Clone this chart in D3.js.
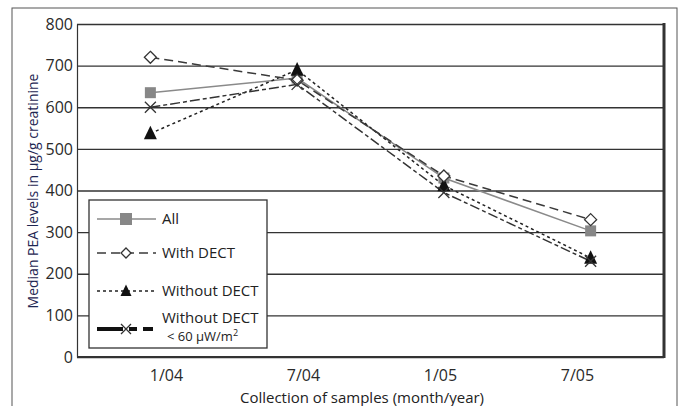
<!DOCTYPE html>
<html>
<head>
<meta charset="utf-8">
<script src="https://cdn.jsdelivr.net/npm/d3@7"></script>
<style>
  body { margin: 0; background: #fff; }
  text { font-family: "Open Sans", sans-serif; }
</style>
</head>
<body>
<div id="chart"></div>
<script>
// data
const months = ["1/04", "7/04", "1/05", "7/05"];
const allValues = [635, 670, 430, 303];
const withDect = [720, 665, 435, 330];
const withoutDect = [537, 690, 412, 238];
const withoutDectLow = [600, 655, 395, 230];
const yTicks = [0, 100, 200, 300, 400, 500, 600, 700, 800];

// plot box
const plotLeft = 77, plotRight = 664, plotTop = 24, plotBottom = 357;

const svg = d3.select("#chart")
    .append("svg")
    .attr("width", 684)
    .attr("height", 406)

const x = d3.scaleBand().domain(months).range([plotLeft, plotRight])
const xLabel = d3.scalePoint().domain(months).range([166, 577])
const y = d3.scaleLinear().domain([0, 800]).range([plotBottom, plotTop])
const cx = d => x(d) + x.bandwidth() / 2

// outer frame
svg.append("rect")
    .attr("x", 12).attr("y", 8)
    .attr("width", 665).attr("height", 430)
    .attr("fill", "none")
    .attr("stroke", "#555")
    .attr("stroke-width", 1)

// y axis + gridlines
const yAxis = svg.append("g")
    .attr("transform", `translate(${plotLeft},0)`)
    .call(d3.axisLeft(y).tickValues(yTicks).tickSizeInner(-(plotRight - plotLeft)).tickSizeOuter(0).tickPadding(4))
yAxis.select(".domain").attr("stroke", "#333").attr("stroke-width", 1.2)
yAxis.selectAll(".tick line").attr("stroke", "#333").attr("stroke-width", 1.4)
yAxis.selectAll(".tick text")
    .attr("font-size", 16)
    .attr("fill", "#2a2a2a")
    .style("font-family", "'Open Sans', sans-serif")

// x axis labels
const xAxis = svg.append("g")
    .attr("transform", `translate(0,${plotBottom})`)
    .call(d3.axisBottom(xLabel).tickSize(0).tickPadding(13))
xAxis.select(".domain").remove()
xAxis.selectAll(".tick text")
    .attr("font-size", 16)
    .attr("fill", "#2a2a2a")
    .style("font-family", "'Open Sans', sans-serif")

// bottom and right borders of the plot
svg.append("line")
    .attr("x1", plotLeft).attr("x2", plotRight)
    .attr("y1", plotBottom).attr("y2", plotBottom)
    .attr("stroke", "#333").attr("stroke-width", 2)
svg.append("line")
    .attr("x1", plotRight).attr("x2", plotRight)
    .attr("y1", plotTop - 1).attr("y2", plotBottom + 1)
    .attr("stroke", "#333").attr("stroke-width", 3)

// titles
svg.append("text")
    .attr("x", 362).attr("y", 403)
    .attr("text-anchor", "middle")
    .attr("font-size", 15)
    .attr("fill", "#222")
    .text("Collection of samples (month/year)")

svg.append("text")
    .attr("transform", "translate(38,191) rotate(-90)")
    .attr("text-anchor", "middle")
    .attr("font-size", 14)
    .attr("fill", "#1e2652")
    .text("Median PEA levels in µg/g creatinine")

// marker shapes
function square(s) { return `M${-s/2},${-s/2}h${s}v${s}h${-s}Z` }
function diamond(s) { return `M0,${-s/2}L${s/2},0L0,${s/2}L${-s/2},0Z` }
function triangle(s) { return `M0,${-s*0.6}L${s/2},${s*0.45}L${-s/2},${s*0.45}Z` }
function cross(s) { return `M${-s/2},${-s/2}L${s/2},${s/2}M${s/2},${-s/2}L${-s/2},${s/2}` }

const series = [
    { name: "All", values: allValues, stroke: "#8a8a8a", dash: null, shape: square, size: 11, fill: "#878787", mstroke: "none" },
    { name: "Without DECT", values: withoutDect, stroke: "#222", dash: "3,3", shape: triangle, size: 13, fill: "#111", mstroke: "none" },
    { name: "With DECT", values: withDect, stroke: "#3a3a3a", dash: "9,5", shape: diamond, size: 12, fill: "#fff", mstroke: "#333" },
    { name: "Without DECT <60", values: withoutDectLow, stroke: "#333", dash: "10,3,4,3", shape: cross, size: 11, fill: "none", mstroke: "#333" }
]

const line = d3.line()
    .x((d, i) => cx(months[i]))
    .y(d => y(d))

series.forEach(s => {
    svg.append("path")
        .datum(s.values)
        .attr("fill", "none")
        .attr("stroke", s.stroke)
        .attr("stroke-width", 1.5)
        .attr("stroke-dasharray", s.dash)
        .attr("d", line)
})

series.forEach(s => {
    svg.append("g")
        .selectAll("path")
        .data(s.values)
        .enter().append("path")
        .attr("transform", (d, i) => `translate(${cx(months[i])},${y(d)})`)
        .attr("d", s.shape(s.size))
        .attr("fill", s.fill)
        .attr("stroke", s.mstroke)
        .attr("stroke-width", 1.3)
})

// legend
const legend = svg.append("g")
legend.append("rect")
    .attr("x", 89).attr("y", 200)
    .attr("width", 178).attr("height", 148)
    .attr("fill", "#fff")
    .attr("stroke", "#333")
    .attr("stroke-width", 1.3)

const legendRows = [
    { s: series[0], y: 219, width: 1.5, dash: null, size: 12 },
    { s: series[2], y: 253, width: 1.5, dash: "9,5", size: 10 },
    { s: series[1], y: 291, width: 1.5, dash: "3,3", size: 11 },
    { s: series[3], y: 329, width: 4, dash: "26,6,8,6,10", size: 10 }
]
legendRows.forEach(r => {
    legend.append("line")
        .attr("x1", 97).attr("x2", 156)
        .attr("y1", r.y).attr("y2", r.y)
        .attr("stroke", r.width > 2 ? "#111" : r.s.stroke)
        .attr("stroke-width", r.width)
        .attr("stroke-dasharray", r.dash)
    legend.append("path")
        .attr("transform", `translate(126,${r.y})`)
        .attr("d", r.s.shape(r.size))
        .attr("fill", r.s.fill)
        .attr("stroke", r.s.mstroke)
        .attr("stroke-width", 1.3)
})

const legendText = [
    { t: "All", x: 162, y: 224, size: 15 },
    { t: "With DECT", x: 162, y: 258, size: 15 },
    { t: "Without DECT", x: 162, y: 296, size: 15 },
    { t: "Without DECT", x: 162, y: 323, size: 15 }
]
legendText.forEach(d => {
    legend.append("text")
        .attr("x", d.x).attr("y", d.y)
        .attr("font-size", d.size)
        .attr("fill", "#222")
        .text(d.t)
})
legend.append("text")
    .attr("x", 167).attr("y", 341)
    .attr("font-size", 13)
    .attr("fill", "#222")
    .html("&lt; 60 µW/m<tspan dy='-5' font-size='9'>2</tspan>")
</script>
</body>
</html>
